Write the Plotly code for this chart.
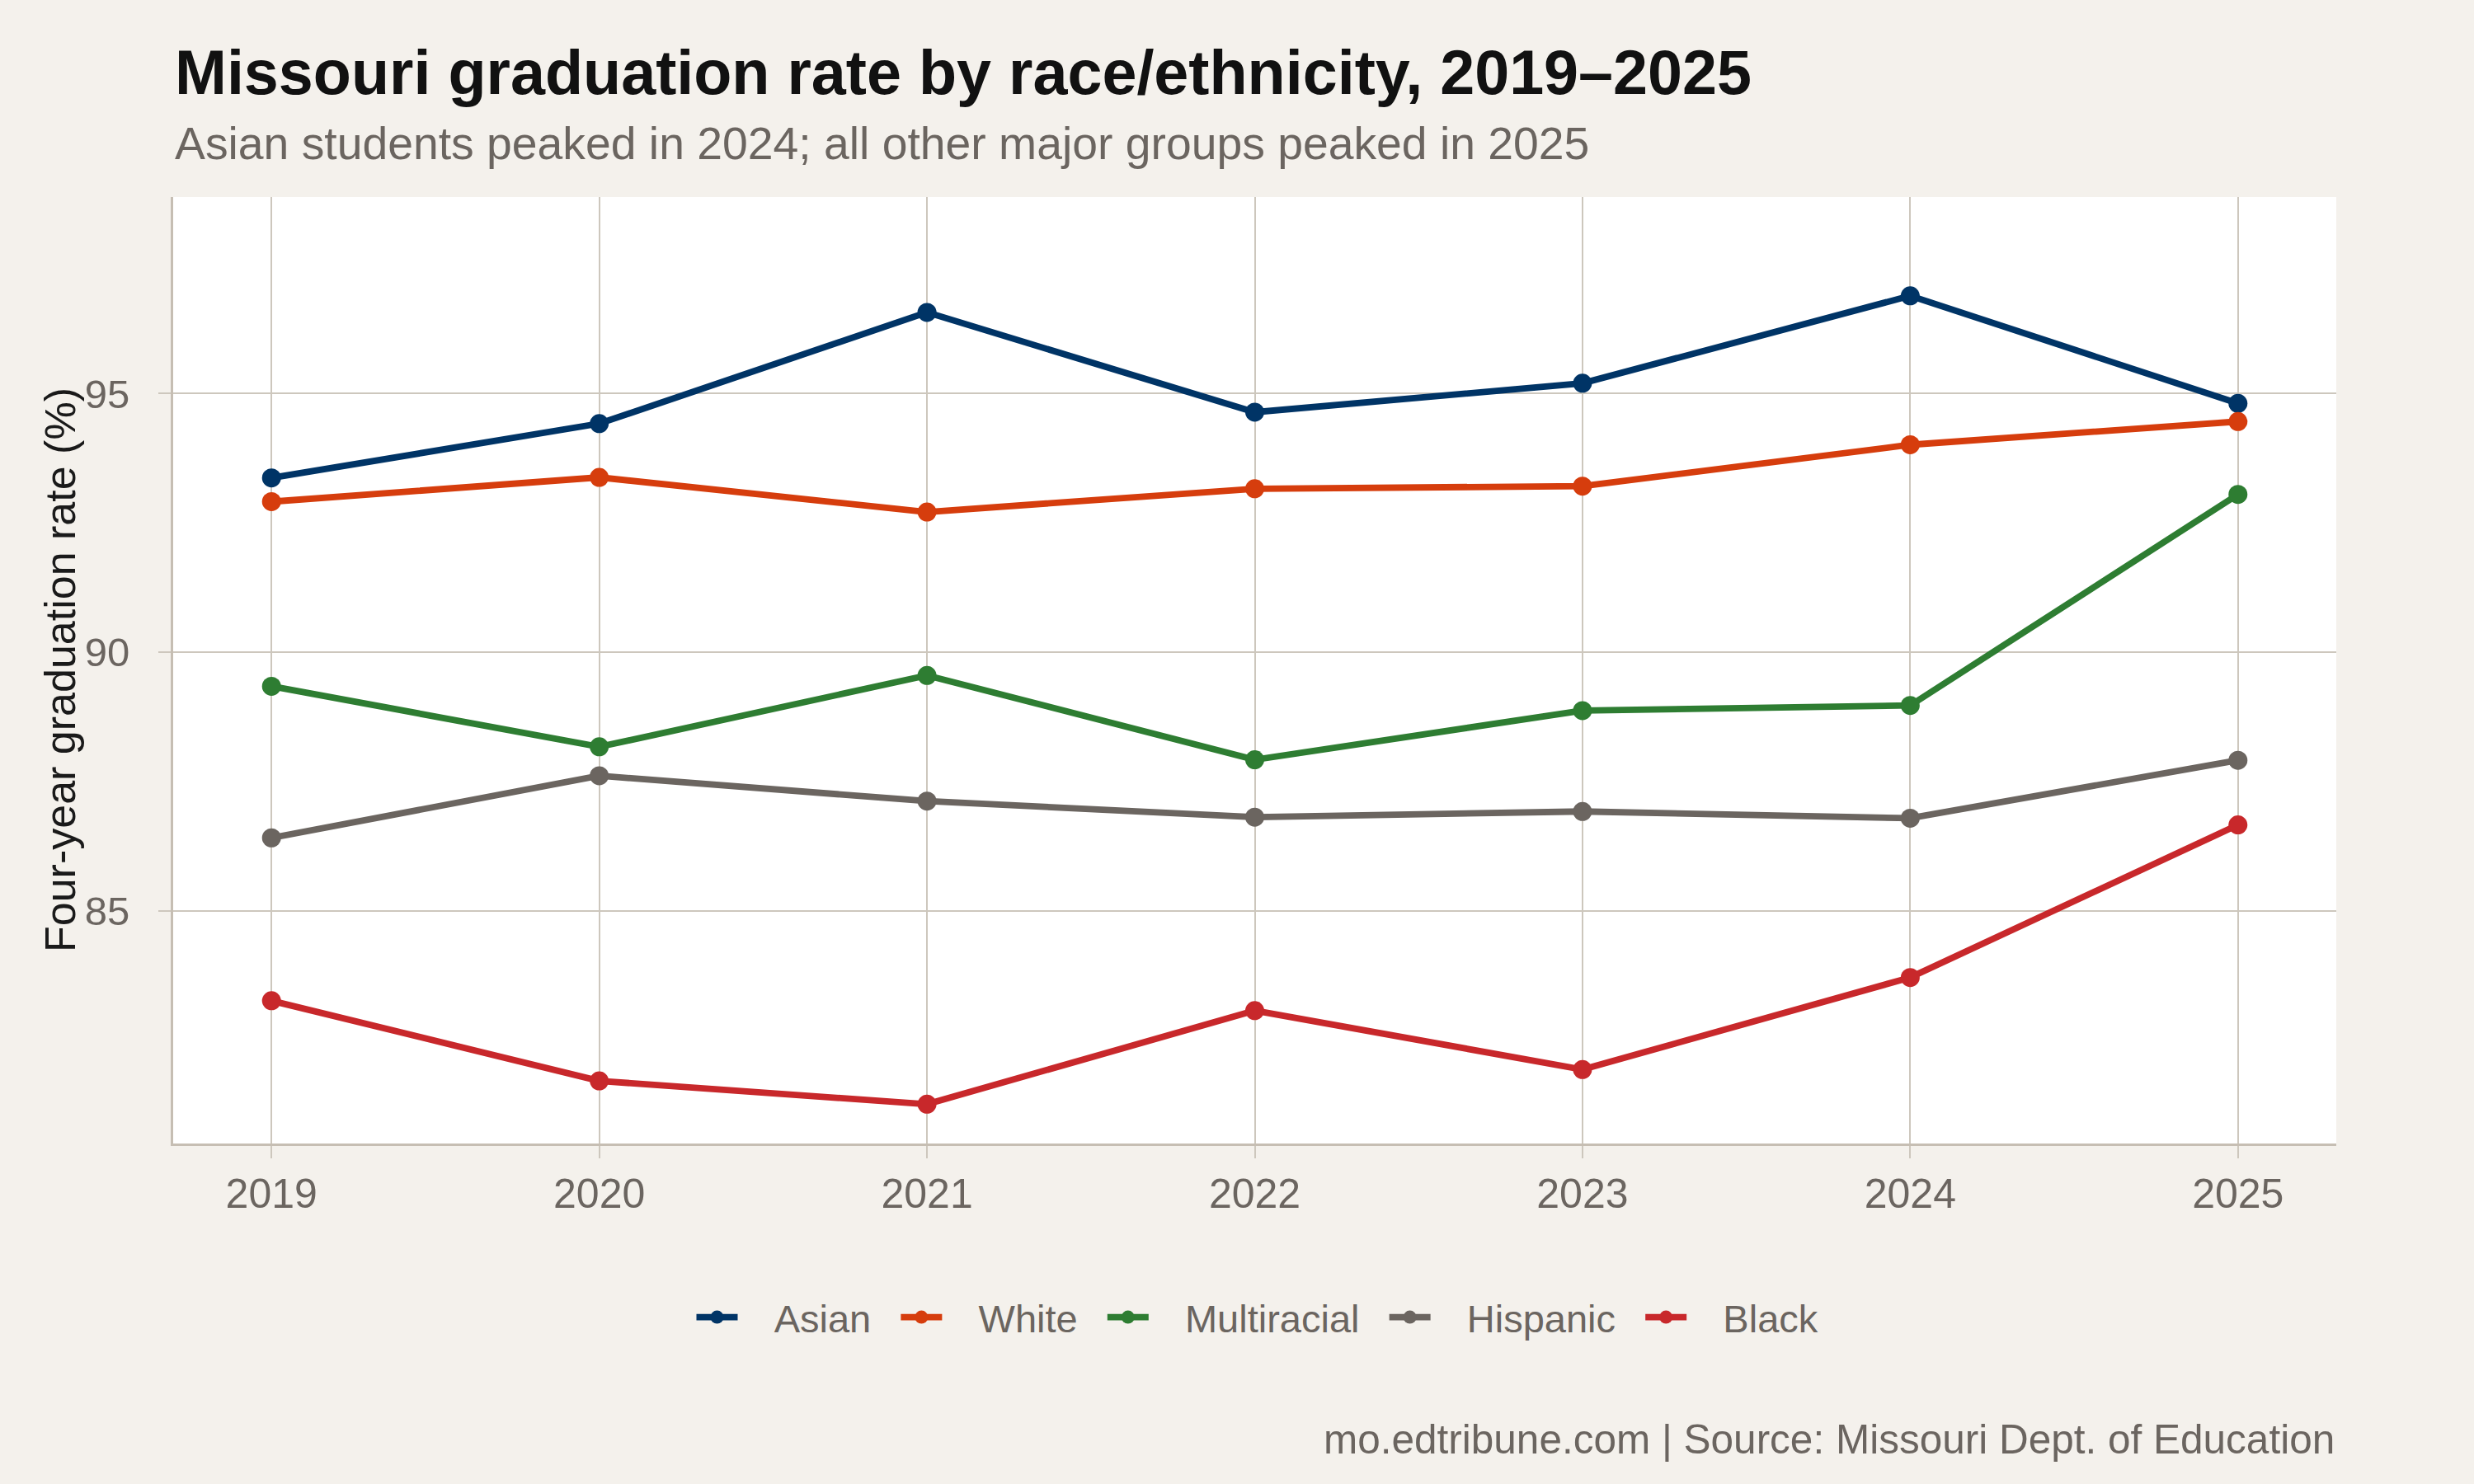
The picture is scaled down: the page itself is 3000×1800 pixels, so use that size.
import plotly.graph_objects as go

years = [2019, 2020, 2021, 2022, 2023, 2024, 2025]
groups = ["Asian", "White", "Multiracial", "Hispanic", "Black"]
asian = [93.37, 94.42, 96.57, 94.64, 95.20, 96.89, 94.81]
white = [92.91, 93.38, 92.71, 93.16, 93.21, 94.01, 94.46]
multiracial = [89.34, 88.17, 89.55, 87.92, 88.87, 88.97, 93.05]
hispanic = [86.41, 87.61, 87.12, 86.81, 86.92, 86.79, 87.91]
black = [83.26, 81.71, 81.26, 83.07, 81.93, 83.71, 86.66]
series = [asian, white, multiracial, hispanic, black]
colors = ["#003466", "#D63D0D", "#2E7D32", "#6B6560", "#C8282B"]
y_ticks = [85, 90, 95]

title = "Missouri graduation rate by race/ethnicity, 2019–2025"
subtitle = "Asian students peaked in 2024; all other major groups peaked in 2025"
y_title = "Four-year graduation rate (%)"
caption = "mo.edtribune.com | Source: Missouri Dept. of Education"

FONT = "Liberation Sans, Arial, Helvetica, sans-serif"
GRAY = "#6B6560"
GRID = "#CDC7BD"
AXIS = "#C6BEB3"
PAD = "&nbsp;"

fig = go.Figure()
for name, vals, col in zip(groups, series, colors):
    fig.add_trace(go.Scatter(
        x=years, y=vals, name=PAD * 3 + name + PAD * 2, mode="lines+markers",
        line=dict(color=col, width=7.8),
        marker=dict(color=col, size=23),
    ))

W, H = 3000, 1800
L, R, T, B = 210, 167, 239, 413
ph = H - T - B
pw = W - L - R

def py(px):
    return (H - B - px) / ph

fig.update_layout(
    width=W, height=H,
    margin=dict(l=L, r=R, t=T, b=B),
    paper_bgcolor="#F4F1EC",
    plot_bgcolor="#FFFFFF",
    font=dict(family=FONT, color=GRAY),
    showlegend=True,
    legend=dict(
        orientation="h", x=0.5 + 16 / pw, xanchor="center", y=py(1598), yanchor="middle",
        font=dict(size=47, color=GRAY), itemwidth=50, bgcolor="rgba(0,0,0,0)",
        traceorder="normal",
    ),
    xaxis=dict(
        range=[2018.7, 2025.3], tickvals=years, ticktext=[str(y) for y in years],
        showgrid=True, gridcolor=GRID, gridwidth=2, zeroline=False,
        showline=True, linecolor=AXIS, linewidth=3,
        ticks="outside", ticklen=15, tickwidth=2, tickcolor=GRID,
        tickfont=dict(size=50, color=GRAY), ticklabelstandoff=0,
    ),
    yaxis=dict(
        range=[80.5, 98.8], tickvals=y_ticks,
        showgrid=True, gridcolor=GRID, gridwidth=2, zeroline=False,
        showline=True, linecolor=AXIS, linewidth=3,
        ticks="outside", ticklen=15, tickwidth=2, tickcolor=GRID,
        tickfont=dict(size=49, color=GRAY), ticklabelstandoff=25,
    ),
    annotations=[
        dict(text="<b>" + title + "</b>", xref="paper", yref="paper", x=0, y=py(88),
             xanchor="left", yanchor="middle", showarrow=False,
             font=dict(size=75.5, color="#111111", family=FONT)),
        dict(text=subtitle, xref="paper", yref="paper", x=0, y=py(174),
             xanchor="left", yanchor="middle", showarrow=False,
             font=dict(size=55.3, color=GRAY, family=FONT)),
        dict(text=y_title, xref="paper", yref="paper", x=(73 - L) / pw, y=0.5,
             xanchor="center", yanchor="middle", textangle=-90, showarrow=False,
             font=dict(size=52, color="#1A1A1A", family=FONT)),
        dict(text=caption, xref="paper", yref="paper", x=1, y=py(1745),
             xanchor="right", yanchor="middle", showarrow=False,
             font=dict(size=49.5, color=GRAY, family=FONT)),
    ],
)

fig.write_html("out.html")
